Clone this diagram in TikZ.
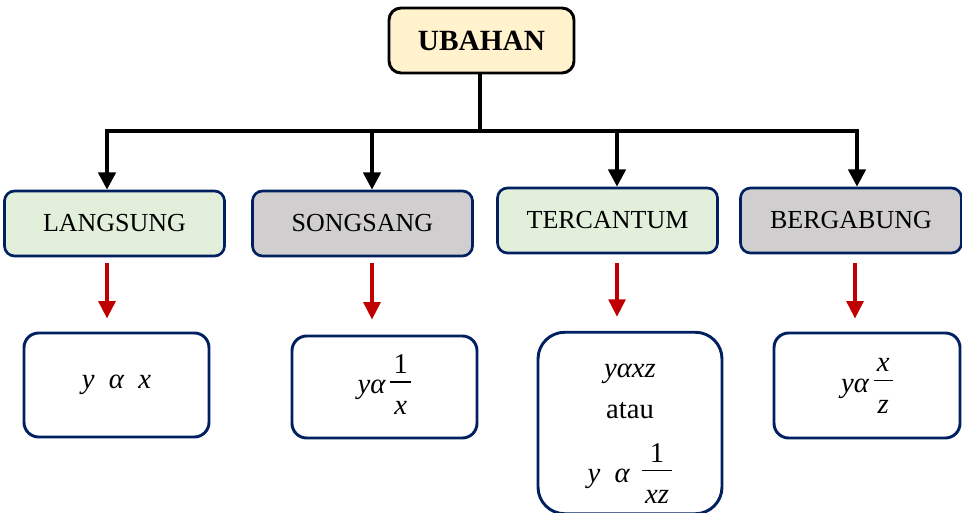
\documentclass[tikz,border=0pt]{standalone}
\usepackage{fontspec}
\setmainfont{Liberation Serif}
\usetikzlibrary{arrows.meta}
\definecolor{navy}{HTML}{002060}
\definecolor{topfill}{HTML}{FFF2CC}
\definecolor{greenfill}{HTML}{E2EFDA}
\definecolor{grayfill}{HTML}{D0CECE}
\definecolor{darkred}{HTML}{C00000}
\newcommand\myfr[2]{$\vcenter{\hbox{\setlength\arrayrulewidth{1.1pt}\begin{tabular}{@{\hspace{2.5pt}}c@{\hspace{2.5pt}}}#1\\[-2pt]\hline\rule{0pt}{24pt}#2\end{tabular}}}$}
\tikzset{
  topbox/.style={draw=black, fill=topfill, line width=2.2pt, rounded corners=9pt,
    minimum width=138.75pt, minimum height=48.75pt, inner sep=0pt,
    font=\fontsize{22}{26}\selectfont\bfseries},
  catbox/.style={draw=navy, line width=2pt, rounded corners=7.5pt,
    minimum width=165pt, minimum height=48.75pt, inner sep=0pt,
    font=\fontsize{19.5}{24}\selectfont},
  fbox/.style={draw=navy, fill=white, line width=2.2pt, rounded corners=11pt,
    minimum width=138.75pt, minimum height=78pt, inner sep=0pt, align=center,
    font=\fontsize{21.5}{26}\selectfont},
  blackarr/.style={draw=black, line width=2.8pt, -{Triangle[width=13pt,length=13pt]}},
  trunk/.style={draw=black, line width=2.8pt},
  redarr/.style={draw=darkred, line width=2.6pt, -{Triangle[width=12.5pt,length=13pt]}}
}
\begin{document}
\begin{tikzpicture}[x=0.75pt,y=-0.75pt]
\useasboundingbox (0,0) rectangle (962,513);
% top
\node[topbox] (ubah) at (481.5,40.5) {UBAHAN};
% categories
\node[catbox, fill=greenfill] (lang) at (114.5,223.5) {LANGSUNG};
\node[catbox, fill=grayfill] (song) at (362.5,223.5) {SONGSANG};
\node[catbox, fill=greenfill] (terc) at (607.5,220.5) {TERCANTUM};
\node[catbox, fill=grayfill, minimum width=165.75pt] (berg) at (851,220.5) {BERGABUNG};
% formula boxes
\node[fbox] (f1) at (116.5,385) {{\itshape y\ \ α\ \ x}};
\node[fbox, minimum height=76.5pt] (f2) at (384.5,387) {{\itshape yα}\,\myfr{1}{\itshape x}};
\node[fbox, minimum width=138pt, minimum height=133.5pt, rounded corners=20pt] (f3) at (630,423)
  {\rule{0pt}{34pt}{\itshape yαxz}\\[5pt] atau\\[13pt] {\itshape y\ \ α\ }\,\myfr{1}{\itshape xz}};
\node[fbox, minimum width=139.5pt, minimum height=78.75pt] (f4) at (867,385.5) {{\itshape yα}\,\myfr{\itshape x}{\itshape z}};
% trunk
\coordinate (hub) at (480,131);
\coordinate (j1) at (107,131);
\coordinate (j2) at (372,131);
\coordinate (j3) at (617,131);
\coordinate (j4) at (857,131);
\draw[trunk] (ubah.south -| hub) -- (hub);
\draw[trunk, line cap=rect] (j1) -- (j4);
\draw[blackarr] (j1) -- (j1 |- lang.north);
\draw[blackarr] (j2) -- (j2 |- song.north);
\draw[blackarr] (j3) -- (j3 |- terc.north);
\draw[blackarr] (j4) -- (j4 |- berg.north);
% red arrows
\coordinate (r1) at (107,263);
\coordinate (r2) at (372,263);
\coordinate (r3) at (617,263);
\coordinate (r4) at (855,263);
\draw[redarr] (r1) -- ([yshift=9.75pt]r1 |- f1.north);
\draw[redarr] (r2) -- ([yshift=11.25pt]r2 |- f2.north);
\draw[redarr] (r3) -- ([yshift=10.5pt]r3 |- f3.north);
\draw[redarr] (r4) -- ([yshift=9.75pt]r4 |- f4.north);
\end{tikzpicture}
\end{document}
